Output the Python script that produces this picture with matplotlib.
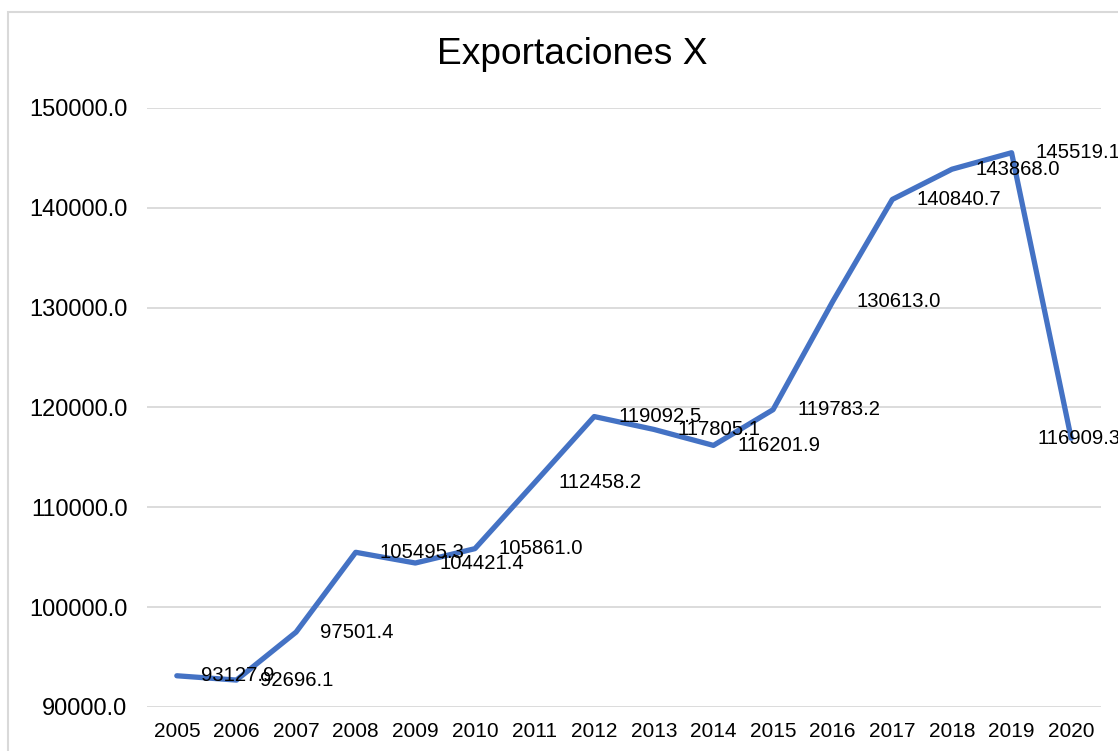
import matplotlib
matplotlib.use("Agg")
import matplotlib.pyplot as plt
from matplotlib.patches import Rectangle

years = ["2005", "2006", "2007", "2008", "2009", "2010", "2011", "2012",
         "2013", "2014", "2015", "2016", "2017", "2018", "2019", "2020"]
exportaciones = [93127.9, 92696.1, 97501.4, 105495.3, 104421.4, 105861.0,
                 112458.2, 119092.5, 117805.1, 116201.9, 119783.2, 130613.0,
                 140840.7, 143868.0, 145519.1, 116909.3]
y_ticks = [90000, 100000, 110000, 120000, 130000, 140000, 150000]

plt.rcParams["font.family"] = ["Liberation Sans", "DejaVu Sans"]

fig = plt.figure(figsize=(11.18, 7.51), dpi=100)
ax = fig.add_axes([0.1315, 0.0586, 0.8533, 0.7976])

# marco gris del gráfico
fig.patches.append(Rectangle((8 / 1118, -0.1), 1.2, 1 - 12 / 751 + 0.1,
                             transform=fig.transFigure, fill=False,
                             edgecolor="#d9d9d9", linewidth=1.5))

x = list(range(len(years)))
ax.plot(x, exportaciones, color="#4472C4", linewidth=3.8,
        solid_capstyle="round", solid_joinstyle="round", zorder=3)

for i, v in enumerate(exportaciones):
    dx = 24 if i < len(years) - 1 else -34
    ax.annotate(f"{v:.1f}", (i, v), xytext=(dx, 0), textcoords="offset pixels",
                ha="left", va="center", fontsize=14.6, color="black",
                annotation_clip=False, zorder=4)

ax.set_xlim(-0.5, len(years) - 0.5)
ax.set_ylim(90000, 150000)
ax.set_xticks(x)
ax.set_xticklabels(years, fontsize=15)
ax.set_yticks(y_ticks)
ax.set_yticklabels([f"{t:.1f}" for t in y_ticks], fontsize=17)
ax.tick_params(axis="both", length=0)
ax.tick_params(axis="y", pad=14)
ax.tick_params(axis="x", pad=11)
ax.grid(axis="y", color="#d9d9d9", linewidth=1.3)
ax.set_axisbelow(True)
for s in ax.spines.values():
    s.set_visible(False)

fig.text(0.5116, 1 - 55 / 751, "Exportaciones X", ha="center", va="center",
         fontsize=26.7)

fig.savefig("out.png", dpi=100)
